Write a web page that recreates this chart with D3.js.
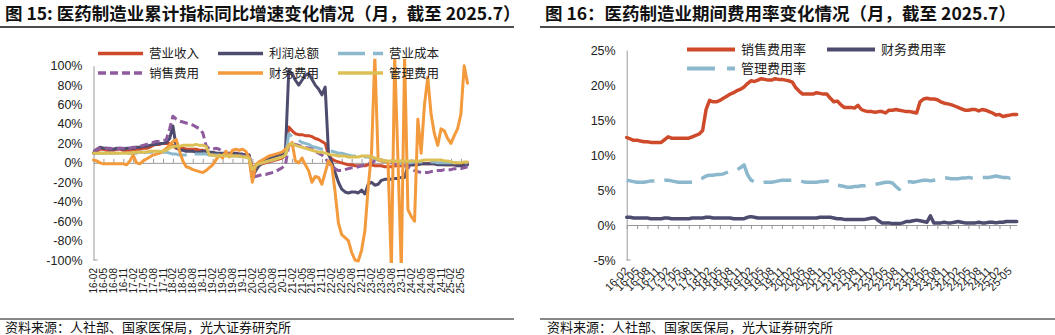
<!DOCTYPE html>
<html><head><meta charset="utf-8">
<script src="https://cdn.jsdelivr.net/npm/d3@7"></script>
<style>body{margin:0;background:#fff} svg{display:block}</style>
</head><body><svg id="c" width="1055" height="335"></svg>
<script>
// Monthly categories, Feb 2016 – Jul 2025
const categories = d3.timeMonths(new Date(2016,1,1), new Date(2025,7,1)).map(d3.timeFormat("%y-%m"));
const tickLabels = categories.filter((d,i)=>i%3===0);

// Fig 15: cumulative YoY growth (%)
const revenue = [10,12,14,14,13,13,13,14,14,13,13,13,13,14,14,15,15,16,18,19,19,20,20,20,18,15,15,15,14,14,14,14,13,13,12,10,10,10,9,9,9,9,9,9,9,8,8,8,-5,-3,-2,-1,0,1,2,3,4,5,8,37,33,30,29,29,28,28,27,25,24,22,20,8,4,2,1,0,-1,-2,-2,-3,-3,-3,-3,-2,-2,-3,-3,-3,-4,-4,-4,-3,-3,-3,-2,-2,-2,-2,-1,-1,-1,-1,-1,-1,-1,-1,-2,-2,-2,-2,-2,-1,-1,0];
const profit = [10,14,16,15,15,14,14,15,15,14,15,15,15,16,16,17,17,18,19,19,20,20,21,25,38,16,13,13,12,12,12,11,11,12,12,11,11,10,10,10,10,10,10,10,9,9,8,8,-15,-8,-3,0,2,4,5,7,8,9,12,95,92,85,80,85,90,92,86,80,76,70,78,10,0,-10,-20,-27,-30,-31,-30,-30,-31,-28,-32,-22,-20,-23,-22,-18,-17,-17,-17,-16,-16,-15,-15,-3,-2,-2,-2,-1,-1,-1,-1,-1,-2,-2,-2,-2,-2,-2,-3,-3,-3,-2];
const cost = [9,10,10,10,10,10,10,10,10,10,10,10,10,10,11,11,11,11,11,11,11,11,11,10,9,9,8,8,8,8,9,9,9,9,9,8,8,8,8,7,7,7,7,7,7,7,6,6,-5,-3,-1,0,1,2,3,4,5,6,7,30,27,25,23,21,20,19,17,16,15,14,13,12,12,11,10,10,9,8,7,7,7,7,6,6,5,4,3,2,1,0,0,-1,-1,-1,-1,0,0,1,1,1,1,1,1,1,0,0,0,0,0,0,0,0,0,0];
const sellingExp = [12,14,15,15,15,15,14,14,15,15,15,15,16,16,17,18,19,20,21,22,22,23,24,35,48,45,43,42,41,40,39,37,35,31,18,14,14,15,14,12,10,9,8,8,7,7,6,6,-15,-14,-13,-12,-12,-11,-10,-9,-7,-5,-2,18,20,19,18,17,16,15,14,12,10,8,5,0,-3,-6,-8,-8,-7,-6,-5,-5,-4,-3,-2,-1,0,2,3,3,2,1,0,-1,-2,-3,-3,-4,-6,-8,-9,-10,-10,-10,-9,-9,-8,-8,-7,-7,-7,-6,-6,-6,-5,-4];
const financeExp = [3,2,0,-1,-1,-1,-1,-1,-1,-1,-2,2,8,0,-1,2,4,6,8,9,10,12,15,18,22,24,12,2,-4,-5,-7,-8,-9,-10,-8,-5,-2,3,8,5,12,6,13,14,13,14,12,5,-20,-2,1,3,5,7,8,9,10,11,14,17,21,2,0,5,-2,-8,-20,-14,-15,-22,-10,2,-3,-30,-62,-74,-77,-80,-92,-100,-101,-90,-70,-25,10,110,3,2,2,0,-110,110,2,-110,110,-48,-55,-60,45,10,60,88,50,30,18,35,33,25,20,28,35,50,100,82];
const adminExp = [10,10,10,10,10,10,10,10,10,10,10,10,11,11,11,11,11,12,12,12,12,12,13,15,17,17,17,18,18,18,18,19,18,18,17,8,8,7,7,8,7,7,7,7,7,6,6,5,-7,-3,-1,0,1,2,3,4,5,6,8,19,20,18,17,16,15,14,13,12,11,11,10,9,8,8,7,7,7,6,6,6,6,7,7,7,6,5,4,3,2,2,2,2,2,2,2,2,2,2,2,2,3,3,3,3,3,3,2,2,1,0,0,0,1,1];
const growthTicks = [100,80,60,40,20,0,-20,-40,-60,-80,-100];

// Fig 16: expense ratios (%)
const sellingRate = [12.5,12.3,12.1,12.1,12.0,11.9,11.9,11.8,11.8,11.8,11.8,12.2,12.6,12.4,12.4,12.4,12.4,12.4,12.4,12.6,12.8,13.0,13.5,16.5,17.8,17.6,17.6,17.8,18.1,18.4,18.7,18.9,19.2,19.4,19.7,20.2,20.6,20.5,20.7,20.9,20.8,20.7,20.7,20.9,20.8,20.8,20.7,20.6,20.4,19.6,19.1,18.7,18.7,18.7,18.7,18.9,18.8,18.7,18.7,18.1,17.6,17.7,17.2,16.8,16.8,16.8,16.7,17.1,16.5,16.3,16.2,16.2,16.1,16.2,16.2,16.0,16.4,16.4,16.5,16.4,16.3,16.2,16.2,16.1,16.0,17.6,18.0,18.1,18.0,18.0,17.9,17.6,17.4,17.3,17.2,17.0,16.8,16.6,16.4,16.4,16.5,16.5,16.3,16.5,16.4,16.2,16.0,15.7,15.8,15.5,15.6,15.7,15.8,15.8];
const financeRate = [1.1,1.1,1.0,1.0,1.0,1.0,1.0,0.9,0.9,0.9,0.9,1.0,1.0,0.9,0.9,0.9,0.9,0.9,0.9,1.0,1.0,1.0,1.0,1.1,1.1,1.0,1.0,1.0,1.0,1.0,1.0,0.9,0.9,0.9,0.9,1.1,1.2,1.1,1.0,1.0,1.0,1.0,1.0,1.0,1.0,1.0,1.0,1.0,1.0,1.0,1.0,1.0,1.0,1.0,1.0,1.0,1.1,1.1,1.1,1.1,1.0,0.9,0.9,0.8,0.8,0.8,0.8,0.8,0.8,0.8,0.9,1.0,1.0,0.6,0.3,0.3,0.3,0.2,0.2,0.2,0.3,0.5,0.5,0.6,0.7,0.6,0.5,0.4,1.3,0.3,0.3,0.3,0.4,0.3,0.3,0.4,0.5,0.4,0.3,0.3,0.3,0.3,0.4,0.3,0.3,0.4,0.4,0.3,0.4,0.4,0.5,0.5,0.5,0.5];
const adminRate = [6.4,6.3,6.2,6.1,6.1,6.1,6.2,6.3,6.3,6.3,6.3,6.4,6.4,6.3,6.2,6.1,6.1,6.1,6.1,6.1,6.2,6.5,6.7,7.0,7.1,7.1,7.2,7.2,7.3,7.5,7.7,7.8,7.9,8.2,8.6,7.2,6.4,6.2,6.1,6.0,6.1,6.1,6.1,6.2,6.3,6.4,6.4,6.4,6.4,6.3,6.3,6.2,6.1,6.1,6.1,6.1,6.2,6.2,6.3,6.1,5.8,5.7,5.6,5.5,5.4,5.4,5.5,5.5,5.6,5.6,5.7,5.8,5.8,5.9,6.0,6.1,6.1,6.0,5.5,5.1,5.7,6.1,6.2,6.1,6.2,6.3,6.4,6.4,6.3,6.4,6.5,6.6,6.7,6.7,6.6,6.6,6.6,6.7,6.7,6.8,6.7,6.7,6.7,6.8,6.8,6.8,6.9,7.0,6.9,6.8,6.8,6.7,6.8,6.9];
const rateTicks = [25,20,15,10,5,0,-5];

const latin = "'Liberation Sans', Arial, sans-serif";
const cjk = "'Noto Sans CJK SC', 'Noto Sans', sans-serif";
const svg = d3.select("#c");
svg.append("rect").attr("width",1055).attr("height",335).attr("fill","#fff");

function header(x0, x1, title, source, srcX){
  svg.append("text").attr("x", x0+5).attr("y", 20).attr("font-family", cjk)
    .attr("font-weight", 700).attr("font-size", 17.5).attr("fill", "#111").text(title);
  svg.append("line").attr("x1", x0).attr("x2", x1).attr("y1", 27).attr("y2", 27)
    .attr("stroke", "#111").attr("stroke-width", 1.5);
  svg.append("line").attr("x1", x0).attr("x2", x1).attr("y1", 319).attr("y2", 319)
    .attr("stroke", "#111").attr("stroke-width", 1);
  svg.append("text").attr("x", srcX).attr("y", 332).attr("font-family", cjk)
    .attr("font-size", 13).attr("fill", "#111").text(source);
}

function chart(cfg){
  const x = d3.scalePoint().domain(categories).range(cfg.xr);
  const y = d3.scaleLinear().domain(cfg.yd).range(cfg.yr);
  const g = svg.append("g");

  // value axis
  const ya = g.append("g").attr("transform", `translate(${cfg.xr[0]},0)`)
    .call(d3.axisLeft(y).tickValues(cfg.yTicks).tickSize(0).tickPadding(cfg.yPad).tickFormat(d=>d+"%"));
  ya.select(".domain").attr("stroke", "#9a9a9a");
  ya.selectAll("text").attr("font-family", latin).attr("font-size", 12.5).attr("fill", "#222");
  g.append("line").attr("x1", cfg.xr[0]).attr("x2", cfg.xr[0]+4)
    .attr("y1", cfg.yr[0]).attr("y2", cfg.yr[0]).attr("stroke", "#9a9a9a");

  // category axis on the zero line
  const xa = g.append("g").attr("transform", `translate(0,${y(0)})`)
    .call(d3.axisBottom(x).tickValues(tickLabels).tickSize(cfg.tickLen).tickSizeOuter(0).tickFormat(""));
  xa.select(".domain").attr("stroke", "#9a9a9a");
  xa.selectAll(".tick line").attr("stroke", "#9a9a9a");

  // category labels along the bottom
  g.selectAll("text.cat").data(tickLabels).join("text").attr("class","cat")
    .attr("transform", d=>`translate(${x(d)},${cfg.labelY}) rotate(${cfg.rot})`)
    .attr("text-anchor", "end").attr("dy", "0.35em")
    .attr("font-family", latin).attr("font-size", cfg.catFont).attr("fill", "#222").text(d=>d);

  // clip region for the plotted series
  const clipId = "clip" + cfg.id;
  svg.append("clipPath").attr("id", clipId).append("rect")
    .attr("x", cfg.xr[0]-5).attr("width", cfg.xr[1]-cfg.xr[0]+10)
    .attr("y", cfg.yr[1]-7).attr("height", cfg.yr[0]-cfg.yr[1]+10);
  const lines = g.append("g").attr("clip-path", `url(#${clipId})`);
  const line = d3.line().x((d,i)=>x(categories[i])).y(d=>y(d));
  cfg.series.forEach(s=>{
    lines.append("path").datum(s.values).attr("d", line).attr("fill", "none")
      .attr("stroke", s.color).attr("stroke-width", cfg.lw)
      .attr("stroke-linejoin", "round").attr("stroke-linecap", s.dash ? "butt" : "round")
      .attr("stroke-dasharray", s.dash || null);
  });

  // legend
  cfg.series.forEach((s,i)=>{
    const [lx, ly] = cfg.legendPos[i];
    g.append("line").attr("x1", lx).attr("x2", lx+cfg.legendLen).attr("y1", ly).attr("y2", ly)
      .attr("stroke", s.color).attr("stroke-width", cfg.lw+0.5)
      .attr("stroke-dasharray", s.legendDash || s.dash || null);
    g.append("text").attr("x", lx+cfg.legendLen+6).attr("y", ly).attr("dy", "0.36em")
      .attr("font-family", cjk).attr("font-size", cfg.legendFont).attr("fill", "#222").text(s.name);
  });
}

header(0, 514, "图 15: 医药制造业累计指标同比增速变化情况（月，截至 2025.7）", "资料来源：人社部、国家医保局，光大证券研究所", 5);
header(540, 1055, "图 16：医药制造业期间费用率变化情况（月，截至 2025.7）", "资料来源：人社部、国家医保局，光大证券研究所", 547);

chart({
  id: "L", xr: [93.5, 467.5], yd: [-100, 100], yr: [260, 65.7], yTicks: growthTicks, yPad: 11,
  tickLen: -4, labelY: 268, rot: -90, lw: 3, catFont: 10,
  legendLen: 45, legendFont: 12.5,
  legendPos: [[98,53.5],[218,53.5],[338,53.5],[98,73],[218,73],[338,73]],
  series: [
    {name: "营业收入", values: revenue, color: "#cf4a2a"},
    {name: "利润总额", values: profit, color: "#4d4b6e"},
    {name: "营业成本", values: cost, color: "#8bb8cc", dash: "26,8", legendDash: "27,8"},
    {name: "销售费用", values: sellingExp, color: "#8e5c9e", dash: "8,4", legendDash: "8,4"},
    {name: "财务费用", values: financeExp, color: "#f39a3c"},
    {name: "管理费用", values: adminExp, color: "#dcc056"}
  ]
});

chart({
  id: "R", xr: [626.7, 1016.7], yd: [-5, 25], yr: [260, 50], yTicks: rateTicks, yPad: 11,
  tickLen: 4, labelY: 269, rot: -45, lw: 3.5, catFont: 11,
  legendLen: 48, legendFont: 13,
  legendPos: [[687,49.5],[827,49.5],[687,68.5]],
  series: [
    {name: "销售费用率", values: sellingRate, color: "#cf4a2a"},
    {name: "财务费用率", values: financeRate, color: "#4d4b6e"},
    {name: "管理费用率", values: adminRate, color: "#8bb8cc", dash: "28,10", legendDash: "28,12,9,40"}
  ]
});
</script></body></html>
